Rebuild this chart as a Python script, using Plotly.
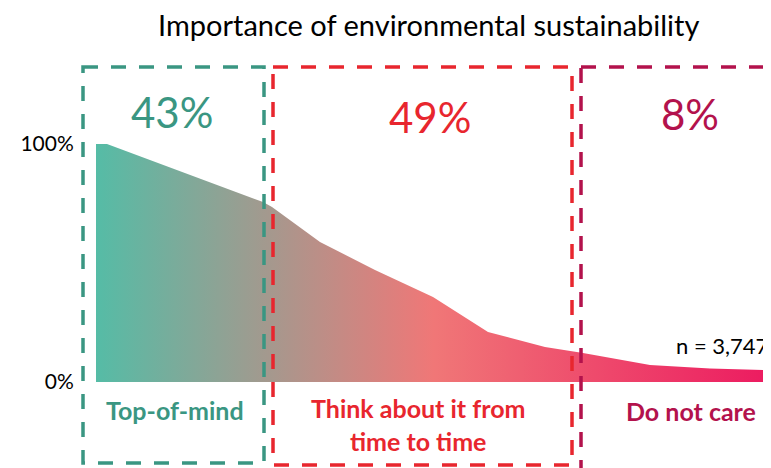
import plotly.graph_objects as go

# ---- data ----
curve_x = [0, 11, 167, 176, 224, 279, 337, 392, 449, 487, 554, 614, 675]
curve_y = [100, 100, 75.6, 73.5, 58.8, 47.1, 35.7, 21.0, 14.7, 12.2, 7.1, 5.7, 5.0]
segment_names = ["Top-of-mind", "Think about it from<br>time to time", "Do not care"]
segment_shares = ["43%", "49%", "8%"]
tick_vals = [0, 100]
tick_text = ["0%", "100%"]
sample_note = "n = 3,747"
title_text = "Importance of environmental sustainability"

# ---- styling ----
OFF = 8  # page body margin
VW, VH = 771, 468
W, H = VW - OFF, VH - OFF
TEAL = "#3a9682"
RED = "#e8262e"
CRIMSON = "#b3124c"
FONT = "Lato"
PLOT_LEFT = 96 - OFF
BASE_Y = 382 - OFF
TOP_Y = 144 - OFF
scale = (BASE_Y - TOP_Y) / 100.0
y_top = BASE_Y / scale
y_bot = -(H - BASE_Y) / scale


def fx(x):
    return (x - OFF) / W


def fy(y):
    return 1 - (y - OFF) / H


fig = go.Figure()
fig.add_trace(go.Scatter(
    x=curve_x, y=curve_y, mode="lines", line=dict(width=0),
    fill="tozeroy",
    fillgradient=dict(type="horizontal",
                      colorscale=[[0, "#55bca6"], [0.5, "#f07777"], [1, "#ec1a60"]]),
    hoverinfo="skip", showlegend=False,
))

boxes = [
    (83, 67, 264, 463, TEAL),
    (273, 67, 572, 465, RED),
    (581, 67, 800, 500, CRIMSON),
]
for x0, y0, x1, y1, c in boxes:
    fig.add_shape(type="rect", xref="paper", yref="paper",
                  x0=fx(x0), x1=fx(x1), y0=fy(y0), y1=fy(y1),
                  line=dict(color=c, width=3.5, dash="15px,13px"),
                  fillcolor="rgba(0,0,0,0)", layer="above")

colors = [TEAL, RED, CRIMSON]
share_pos = [(172, 112), (430, 117), (690, 114)]
name_pos = [(175, 410), (418, 424), (691, 411)]
for i in range(3):
    fig.add_annotation(xref="paper", yref="paper", x=fx(share_pos[i][0]), y=fy(share_pos[i][1]),
                       text=segment_shares[i], showarrow=False, xanchor="center", yanchor="middle",
                       font=dict(family=FONT, size=42, color=colors[i]))
    fig.add_annotation(xref="paper", yref="paper", x=fx(name_pos[i][0]), y=fy(name_pos[i][1]),
                       text="<b>" + segment_names[i] + "</b>", showarrow=False,
                       xanchor="center", yanchor="middle",
                       font=dict(family=FONT, size=25, color=colors[i]))

fig.add_annotation(xref="paper", yref="paper", x=fx(674), y=fy(345), text=sample_note,
                   showarrow=False, xanchor="left", yanchor="middle",
                   font=dict(family=FONT, size=22, color="black"))

fig.add_annotation(xref="paper", yref="paper", x=fx(428), y=fy(24), text=title_text,
                   showarrow=False, xanchor="center", yanchor="middle",
                   font=dict(family=FONT, size=29, color="black"))

fig.update_layout(
    width=W, height=H,
    margin=dict(l=0, r=0, t=0, b=0),
    paper_bgcolor="white", plot_bgcolor="white",
    xaxis=dict(range=[-PLOT_LEFT, W - PLOT_LEFT], visible=False, domain=[0, 1]),
    yaxis=dict(range=[y_bot, y_top], anchor="free", position=PLOT_LEFT / W,
               tickvals=tick_vals, ticktext=tick_text, ticks="outside", ticklen=18,
               tickcolor="rgba(0,0,0,0)", showgrid=False, zeroline=False, showline=False,
               tickfont=dict(family=FONT, size=21, color="black")),
    showlegend=False,
)

fig.write_html("out.html")
